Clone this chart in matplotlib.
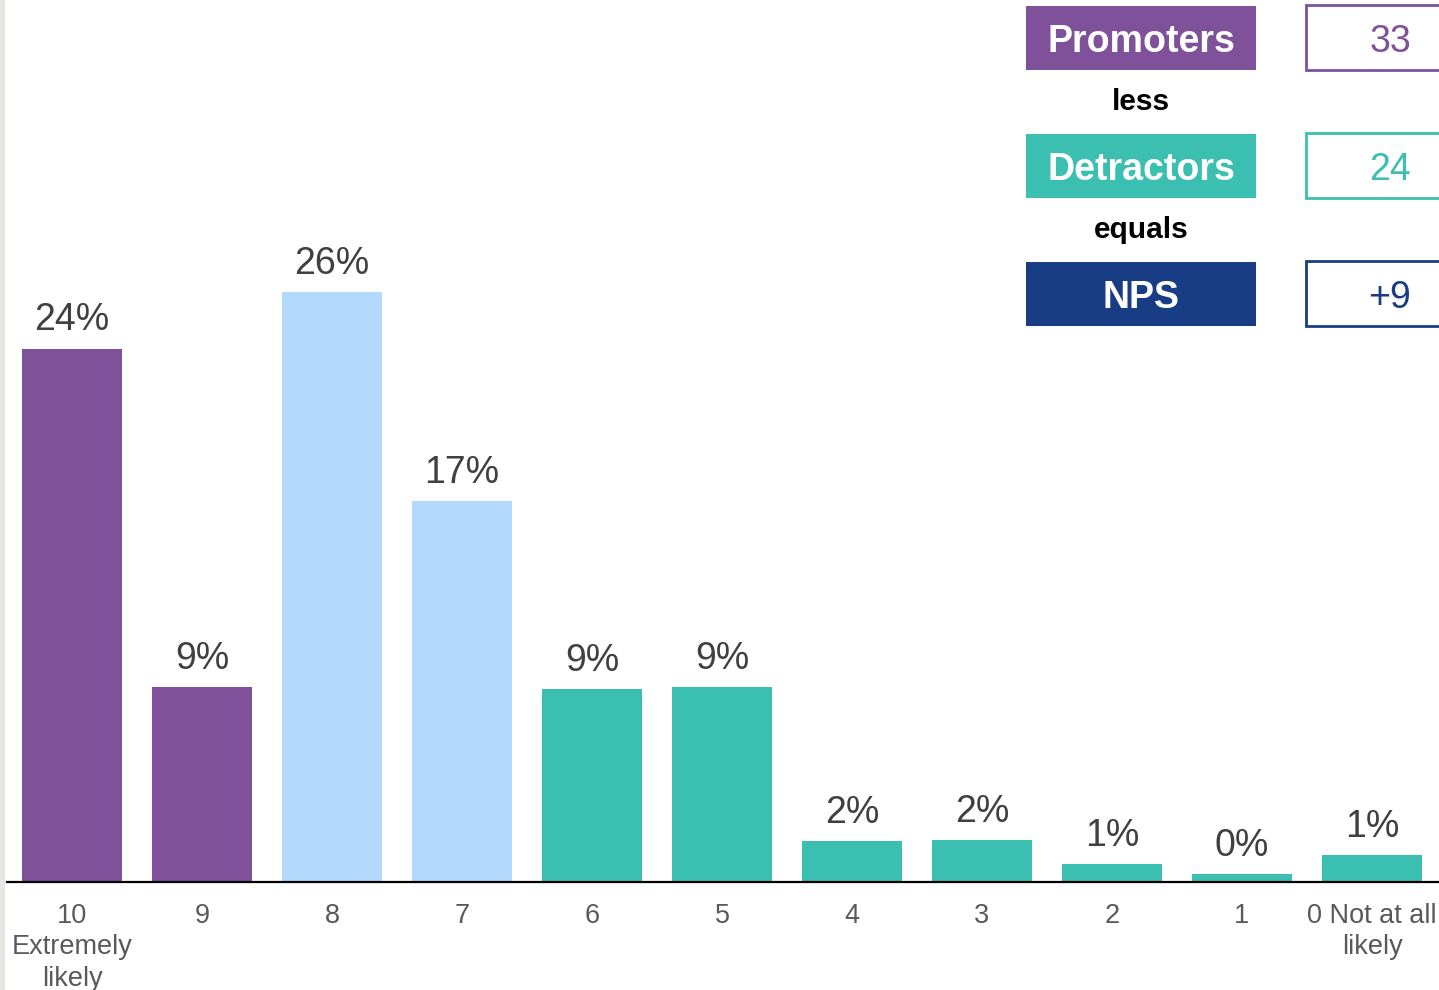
import matplotlib
matplotlib.use("Agg")
import matplotlib.pyplot as plt
from matplotlib.patches import Rectangle

plt.rcParams['font.family'] = ['Liberation Sans', 'DejaVu Sans']

# Scores (10 down to 0) and share of respondents (%)
categories = ["10\nExtremely\nlikely", "9", "8", "7", "6", "5", "4", "3", "2", "1", "0 Not at all\nlikely"]
shares = [23.5, 8.6, 26.0, 16.8, 8.5, 8.6, 1.8, 1.85, 0.8, 0.35, 1.2]
share_labels = ["24%", "9%", "26%", "17%", "9%", "9%", "2%", "2%", "1%", "0%", "1%"]
groups = ["promoter", "promoter", "passive", "passive"] + ["detractor"] * 7

# NPS summary panel
summary_names = ["Promoters", "Detractors", "NPS"]
summary_values = ["33", "24", "+9"]
summary_joiners = ["less", "equals"]

PURPLE = "#7f519a"
LIGHTBLUE = "#b3dafd"
TEAL = "#3abfb0"
NAVY = "#183d85"
group_colors = {"promoter": PURPLE, "passive": LIGHTBLUE, "detractor": TEAL}
summary_colors = [PURPLE, TEAL, NAVY]

W, H = 1439, 990
fig = plt.figure(figsize=(W / 100, H / 100), dpi=100)


def fx(px):
    return px / W


def fy(py):
    return 1 - py / H


# thin grey strip on the left edge
fig.patches.append(Rectangle((0, 0), fx(5), 1, transform=fig.transFigure,
                             facecolor="#e9e6e1", edgecolor="none"))

ax = fig.add_axes([fx(7), fy(882), 1 - fx(7), fy(0) - fy(882)])
x = list(range(len(shares)))
colors = [group_colors[g] for g in groups]
bars = ax.bar(x, shares, width=100 / 130, color=colors, zorder=2)

for rect, lab in zip(bars, share_labels):
    ax.annotate(lab, (rect.get_x() + rect.get_width() / 2, rect.get_height()),
                xytext=(0, 13), textcoords="offset points",
                ha="center", va="baseline", fontsize=27, color="#404040")

ax.set_xlim(-0.5, (W - 72) / 130)
ax.set_ylim(0, 882 / 22.7)
ax.set_xticks(x)
ax.set_xticklabels(categories, fontsize=19.5, color="#595959", linespacing=1.28)
ax.tick_params(axis="x", length=0, pad=15)
ax.set_yticks([])
for s in ["top", "right", "left"]:
    ax.spines[s].set_visible(False)
ax.spines["bottom"].set_linewidth(1.6)
ax.spines["bottom"].set_color("black")
ax.patch.set_alpha(0)

# summary boxes
box_tops = [6, 134, 262]
for name, val, col, top in zip(summary_names, summary_values, summary_colors, box_tops):
    fig.patches.append(Rectangle((fx(1026), fy(top + 64)), fx(230), fy(top) - fy(top + 64),
                                 transform=fig.transFigure, facecolor=col, edgecolor="none"))
    fig.text(fx(1141), fy(top + 46), name, ha="center", va="baseline",
             fontsize=27, fontweight="bold", color="white")
    fig.patches.append(Rectangle((fx(1306), fy(top + 64)), fx(160), fy(top - 1) - fy(top + 64),
                                 transform=fig.transFigure, facecolor="white",
                                 edgecolor=col, linewidth=2))
    fig.text(fx(1390), fy(top + 46), val, ha="center", va="baseline",
             fontsize=27, color=col)

for word, ypx in zip(summary_joiners, [110, 238]):
    fig.text(fx(1141), fy(ypx), word, ha="center", va="baseline",
             fontsize=21.5, fontweight="bold", color="black")

fig.savefig("out.png", dpi=100)
